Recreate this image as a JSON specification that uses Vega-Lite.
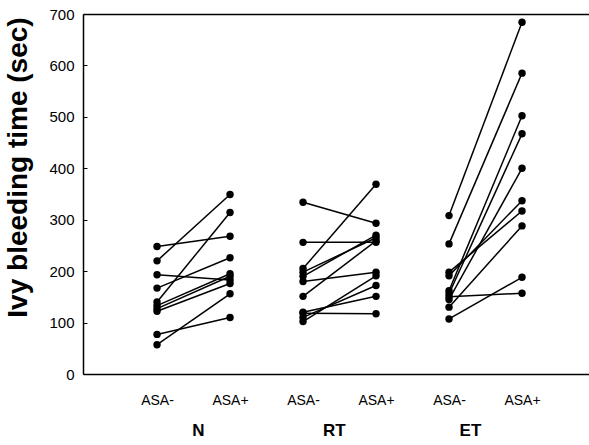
{
  "$schema": "https://vega.github.io/schema/vega-lite/v6.json",
  "width": 506,
  "height": 360,
  "autosize": {"type": "none"},
  "padding": {"left": 83, "top": 14, "right": 0, "bottom": 71},
  "background": "white",
  "config": {
    "view": {"stroke": null},
    "font": "Liberation Sans",
    "axis": {
      "labelFont": "Liberation Sans",
      "titleFont": "Liberation Sans",
      "domainColor": "black",
      "tickColor": "black",
      "labelColor": "black",
      "titleColor": "black",
      "grid": false
    }
  },
  "datasets": {
    "bt": [
      {"id": "N1", "group": "N", "cond": "N ASA-", "t": 248}, {"id": "N1", "group": "N", "cond": "N ASA+", "t": 268},
      {"id": "N2", "group": "N", "cond": "N ASA-", "t": 220}, {"id": "N2", "group": "N", "cond": "N ASA+", "t": 349},
      {"id": "N3", "group": "N", "cond": "N ASA-", "t": 193}, {"id": "N3", "group": "N", "cond": "N ASA+", "t": 183},
      {"id": "N4", "group": "N", "cond": "N ASA-", "t": 167}, {"id": "N4", "group": "N", "cond": "N ASA+", "t": 226},
      {"id": "N5", "group": "N", "cond": "N ASA-", "t": 140}, {"id": "N5", "group": "N", "cond": "N ASA+", "t": 314},
      {"id": "N6", "group": "N", "cond": "N ASA-", "t": 133}, {"id": "N6", "group": "N", "cond": "N ASA+", "t": 195},
      {"id": "N7", "group": "N", "cond": "N ASA-", "t": 127}, {"id": "N7", "group": "N", "cond": "N ASA+", "t": 190},
      {"id": "N8", "group": "N", "cond": "N ASA-", "t": 122}, {"id": "N8", "group": "N", "cond": "N ASA+", "t": 176},
      {"id": "N9", "group": "N", "cond": "N ASA-", "t": 77}, {"id": "N9", "group": "N", "cond": "N ASA+", "t": 110},
      {"id": "N10", "group": "N", "cond": "N ASA-", "t": 57}, {"id": "N10", "group": "N", "cond": "N ASA+", "t": 156},
      {"id": "R1", "group": "RT", "cond": "RT ASA-", "t": 334}, {"id": "R1", "group": "RT", "cond": "RT ASA+", "t": 293},
      {"id": "R2", "group": "RT", "cond": "RT ASA-", "t": 256}, {"id": "R2", "group": "RT", "cond": "RT ASA+", "t": 256},
      {"id": "R3", "group": "RT", "cond": "RT ASA-", "t": 205}, {"id": "R3", "group": "RT", "cond": "RT ASA+", "t": 369},
      {"id": "R4", "group": "RT", "cond": "RT ASA-", "t": 198}, {"id": "R4", "group": "RT", "cond": "RT ASA+", "t": 265},
      {"id": "R5", "group": "RT", "cond": "RT ASA-", "t": 190}, {"id": "R5", "group": "RT", "cond": "RT ASA+", "t": 270},
      {"id": "R6", "group": "RT", "cond": "RT ASA-", "t": 180}, {"id": "R6", "group": "RT", "cond": "RT ASA+", "t": 198},
      {"id": "R7", "group": "RT", "cond": "RT ASA-", "t": 151}, {"id": "R7", "group": "RT", "cond": "RT ASA+", "t": 259},
      {"id": "R8", "group": "RT", "cond": "RT ASA-", "t": 120}, {"id": "R8", "group": "RT", "cond": "RT ASA+", "t": 151},
      {"id": "R9", "group": "RT", "cond": "RT ASA-", "t": 118}, {"id": "R9", "group": "RT", "cond": "RT ASA+", "t": 117},
      {"id": "R10", "group": "RT", "cond": "RT ASA-", "t": 102}, {"id": "R10", "group": "RT", "cond": "RT ASA+", "t": 191},
      {"id": "R11", "group": "RT", "cond": "RT ASA-", "t": 110}, {"id": "R11", "group": "RT", "cond": "RT ASA+", "t": 172},
      {"id": "E1", "group": "ET", "cond": "ET ASA-", "t": 308}, {"id": "E1", "group": "ET", "cond": "ET ASA+", "t": 684},
      {"id": "E2", "group": "ET", "cond": "ET ASA-", "t": 253}, {"id": "E2", "group": "ET", "cond": "ET ASA+", "t": 585},
      {"id": "E3", "group": "ET", "cond": "ET ASA-", "t": 198}, {"id": "E3", "group": "ET", "cond": "ET ASA+", "t": 317},
      {"id": "E4", "group": "ET", "cond": "ET ASA-", "t": 191}, {"id": "E4", "group": "ET", "cond": "ET ASA+", "t": 337},
      {"id": "E5", "group": "ET", "cond": "ET ASA-", "t": 162}, {"id": "E5", "group": "ET", "cond": "ET ASA+", "t": 502},
      {"id": "E6", "group": "ET", "cond": "ET ASA-", "t": 156}, {"id": "E6", "group": "ET", "cond": "ET ASA+", "t": 467},
      {"id": "E7", "group": "ET", "cond": "ET ASA-", "t": 145}, {"id": "E7", "group": "ET", "cond": "ET ASA+", "t": 400},
      {"id": "E8", "group": "ET", "cond": "ET ASA-", "t": 130}, {"id": "E8", "group": "ET", "cond": "ET ASA+", "t": 288},
      {"id": "E9", "group": "ET", "cond": "ET ASA-", "t": 150}, {"id": "E9", "group": "ET", "cond": "ET ASA+", "t": 157},
      {"id": "E10", "group": "ET", "cond": "ET ASA-", "t": 107}, {"id": "E10", "group": "ET", "cond": "ET ASA+", "t": 188}
    ]
  },
  "data": {"name": "bt"},
  "layer": [
    {
      "encoding": {
        "x": {
          "field": "cond",
          "type": "ordinal",
          "scale": {"type": "point", "padding": 0.966, "align": 0.525, "domain": ["N ASA-", "N ASA+", "RT ASA-", "RT ASA+", "ET ASA-", "ET ASA+"]},
          "axis": {
            "title": null,
            "labelExpr": "split(datum.value, ' ')[1]",
            "ticks": false,
            "domain": true,
            "domainWidth": 1.5,
            "labelAngle": 0,
            "labelFontSize": 14,
            "labelPadding": 19
          }
        },
        "y": {
          "field": "t",
          "type": "quantitative",
          "scale": {"domain": [0, 700], "nice": false},
          "axis": {
            "title": "Ivy bleeding time (sec)",
            "values": [0, 100, 200, 300, 400, 500, 600, 700],
            "tickSize": -4,
            "labelPadding": 13,
            "labelFontSize": 15,
            "domainWidth": 1.5,
            "titleFontSize": 28,
            "titleFontWeight": "bold",
            "titleAngle": -90,
            "titleX": -51,
            "titleY": 153
          }
        }
      },
      "layer": [
        {"mark": {"type": "line", "color": "black", "strokeWidth": 1.5}, "encoding": {"detail": {"field": "id"}}},
        {"mark": {"type": "point", "filled": true, "color": "black", "size": 55, "opacity": 1}}
      ]
    },
    {
      "mark": {"type": "point", "opacity": 0},
      "encoding": {
        "x": {
          "field": "group",
          "type": "nominal",
          "scale": {"type": "point", "padding": 0.86, "align": 0.491, "domain": ["N", "RT", "ET"]},
          "axis": {
            "orient": "bottom",
            "title": null,
            "domain": false,
            "ticks": false,
            "labelAngle": 0,
            "labelFontSize": 17,
            "labelFontWeight": "bold",
            "labelPadding": 48
          }
        }
      }
    },
    {
      "mark": {"type": "point", "opacity": 0},
      "encoding": {
        "x": {
          "field": "cond",
          "type": "ordinal",
          "scale": {"type": "point"},
          "axis": {
            "orient": "top",
            "title": null,
            "labels": false,
            "ticks": false,
            "domain": true,
            "domainWidth": 1.5
          }
        }
      }
    }
  ],
  "resolve": {"scale": {"x": "independent"}, "axis": {"x": "independent"}}
}
